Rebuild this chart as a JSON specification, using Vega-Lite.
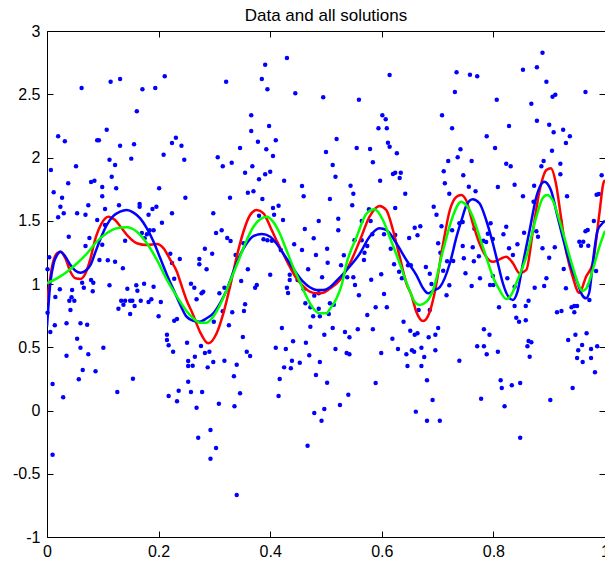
{
"$schema":"https://vega.github.io/schema/vega-lite/v6.json",
"width":558,"height":506,
"autosize":{"type":"none"},
"padding":{"left":47,"top":31,"right":0,"bottom":28},
"background":"white",
"title":{"text":"Data and all solutions","fontSize":17,"font":"Liberation Sans","fontWeight":"normal","color":"black","offset":8,"dy":10,"anchor":"middle","frame":"group"},
"config":{"view":{"stroke":null},"axis":{"grid":false,"title":null,"domainColor":"black","tickColor":"black","labelColor":"black","labelFont":"Liberation Sans","labelFontSize":16,"domainWidth":1,"tickWidth":1,"labelFlush":false,"labelOverlap":false}},
"datasets":{
"pts":[
{"x":0.062,"y":2.549},{"x":0.114,"y":2.599},{"x":0.131,"y":2.621},{"x":0.211,"y":2.642},{"x":0.171,"y":2.539},{"x":0.194,"y":2.549},{"x":0.161,"y":2.365},{"x":0.107,"y":2.22},{"x":0.02,"y":2.168},{"x":0.032,"y":2.128},{"x":0.09,"y":2.136},{"x":0.093,"y":2.136},{"x":0.131,"y":2.093},{"x":0.156,"y":2.104},{"x":0.231,"y":2.157},{"x":0.224,"y":2.115},{"x":0.241,"y":2.093},{"x":0.209,"y":2.022},{"x":0.151,"y":1.991},{"x":0.112,"y":1.983},{"x":0.122,"y":1.941},{"x":0.246,"y":1.983},{"x":0.007,"y":1.901},{"x":0.052,"y":1.93},{"x":0.116,"y":1.848},{"x":0.079,"y":1.806},{"x":0.085,"y":1.817},{"x":0.038,"y":1.796},{"x":0.099,"y":1.767},{"x":0.124,"y":1.757},{"x":0.201,"y":1.757},{"x":0.012,"y":1.725},{"x":0.099,"y":1.693},{"x":0.027,"y":1.682},{"x":0.248,"y":1.682},{"x":0.024,"y":1.611},{"x":0.074,"y":1.622},{"x":0.129,"y":1.622},{"x":0.166,"y":1.632},{"x":0.166,"y":1.611},{"x":0.196,"y":1.611},{"x":0.104,"y":1.593},{"x":0.189,"y":1.593},{"x":0.03,"y":1.559},{"x":0.054,"y":1.559},{"x":0.069,"y":1.548},{"x":0.182,"y":1.548},{"x":0.02,"y":1.527},{"x":0.224,"y":1.559},{"x":0.104,"y":1.466},{"x":0.09,"y":1.506},{"x":0.206,"y":1.485},{"x":0.039,"y":1.374},{"x":0.076,"y":1.364},{"x":0.069,"y":1.3},{"x":0.099,"y":1.311},{"x":0.17,"y":1.403},{"x":0.179,"y":1.393},{"x":0.184,"y":1.425},{"x":0.191,"y":1.425},{"x":0.175,"y":1.361},{"x":0.14,"y":1.342},{"x":0.094,"y":1.19},{"x":0.109,"y":1.187},{"x":0.122,"y":1.176},{"x":0.136,"y":1.124},{"x":0.004,"y":1.211},{"x":0.001,"y":1.116},{"x":0.221,"y":1.24},{"x":0.238,"y":1.198},{"x":0.224,"y":1.166},{"x":0.228,"y":1.042},{"x":0.079,"y":1.032},{"x":0.083,"y":1.01},{"x":0.063,"y":1.01},{"x":0.023,"y":0.958},{"x":0.045,"y":0.953},{"x":0.066,"y":0.971},{"x":0.082,"y":0.942},{"x":0.112,"y":0.99},{"x":0.144,"y":0.963},{"x":0.16,"y":0.99},{"x":0.162,"y":0.947},{"x":0.174,"y":1.002},{"x":0.191,"y":0.979},{"x":0.015,"y":0.897},{"x":0.044,"y":0.895},{"x":0.04,"y":0.868},{"x":0.049,"y":0.868},{"x":0.042,"y":0.795},{"x":0.133,"y":0.868},{"x":0.14,"y":0.868},{"x":0.149,"y":0.868},{"x":0.137,"y":0.836},{"x":0.153,"y":0.868},{"x":0.168,"y":0.868},{"x":0.182,"y":0.858},{"x":0.187,"y":0.879},{"x":0.204,"y":0.858},{"x":0.128,"y":0.805},{"x":0.157,"y":0.826},{"x":0.149,"y":0.763},{"x":0.2,"y":0.745},{"x":0.001,"y":0.773},{"x":0.228,"y":0.71},{"x":0.233,"y":0.723},{"x":0.014,"y":0.674},{"x":0.035,"y":0.689},{"x":0.06,"y":0.689},{"x":0.072,"y":0.678},{"x":0.006,"y":0.621},{"x":0.215,"y":0.599},{"x":0.215,"y":0.557},{"x":0.218,"y":0.515},{"x":0.054,"y":0.568},{"x":0.06,"y":0.496},{"x":0.101,"y":0.496},{"x":0.226,"y":0.465},{"x":0.035,"y":0.433},{"x":0.074,"y":0.444},{"x":0.251,"y":0.536},{"x":0.253,"y":0.391},{"x":0.253,"y":0.352},{"x":0.064,"y":0.32},{"x":0.087,"y":0.31},{"x":0.154,"y":0.251},{"x":0.057,"y":0.247},{"x":0.01,"y":0.21},{"x":0.029,"y":0.104},{"x":0.126,"y":0.146},{"x":0.01,"y":-0.349},{"x":0.218,"y":0.115},{"x":0.236,"y":0.157},{"x":0.233,"y":0.073},{"x":0.253,"y":0.228},
{"x":0.43,"y":2.787},{"x":0.391,"y":2.734},{"x":0.321,"y":2.599},{"x":0.385,"y":2.621},{"x":0.395,"y":2.539},{"x":0.445,"y":2.508},{"x":0.495,"y":2.476},{"x":0.366,"y":2.334},{"x":0.366,"y":2.209},{"x":0.398,"y":2.249},{"x":0.378,"y":2.125},{"x":0.41,"y":2.136},{"x":0.346,"y":2.075},{"x":0.393,"y":2.065},{"x":0.405,"y":2.012},{"x":0.306,"y":2.002},{"x":0.5,"y":2.043},{"x":0.315,"y":1.93},{"x":0.331,"y":1.959},{"x":0.368,"y":1.93},{"x":0.355,"y":1.88},{"x":0.4,"y":1.888},{"x":0.391,"y":1.867},{"x":0.38,"y":1.828},{"x":0.425,"y":1.817},{"x":0.457,"y":1.775},{"x":0.36,"y":1.722},{"x":0.37,"y":1.733},{"x":0.46,"y":1.693},{"x":0.328,"y":1.682},{"x":0.386,"y":1.672},{"x":0.507,"y":1.672},{"x":0.405,"y":1.601},{"x":0.415,"y":1.619},{"x":0.298,"y":1.559},{"x":0.38,"y":1.54},{"x":0.407,"y":1.548},{"x":0.423,"y":1.506},{"x":0.303,"y":1.403},{"x":0.313,"y":1.425},{"x":0.323,"y":1.364},{"x":0.329,"y":1.34},{"x":0.283,"y":1.279},{"x":0.296,"y":1.24},{"x":0.338,"y":1.229},{"x":0.352,"y":1.322},{"x":0.388,"y":1.353},{"x":0.395,"y":1.345},{"x":0.403,"y":1.342},{"x":0.419,"y":1.269},{"x":0.443,"y":1.314},{"x":0.462,"y":1.435},{"x":0.487,"y":1.498},{"x":0.478,"y":1.361},{"x":0.457,"y":1.269},{"x":0.482,"y":1.229},{"x":0.502,"y":1.279},{"x":0.503,"y":1.168},{"x":0.273,"y":1.198},{"x":0.273,"y":1.156},{"x":0.286,"y":1.116},{"x":0.36,"y":1.116},{"x":0.4,"y":1.074},{"x":0.348,"y":1.024},{"x":0.376,"y":0.992},{"x":0.373,"y":0.971},{"x":0.435,"y":1.074},{"x":0.435,"y":1.032},{"x":0.449,"y":1.032},{"x":0.468,"y":1.116},{"x":0.493,"y":1.053},{"x":0.258,"y":1.002},{"x":0.264,"y":0.971},{"x":0.28,"y":0.939},{"x":0.277,"y":0.926},{"x":0.268,"y":0.879},{"x":0.309,"y":0.926},{"x":0.318,"y":0.971},{"x":0.43,"y":0.971},{"x":0.432,"y":0.929},{"x":0.46,"y":0.958},{"x":0.487,"y":0.926},{"x":0.479,"y":0.908},{"x":0.463,"y":0.847},{"x":0.472,"y":0.816},{"x":0.487,"y":0.805},{"x":0.477,"y":0.745},{"x":0.489,"y":0.745},{"x":0.505,"y":0.763},{"x":0.315,"y":0.784},{"x":0.332,"y":0.776},{"x":0.355,"y":0.84},{"x":0.353,"y":0.787},{"x":0.299,"y":0.702},{"x":0.326,"y":0.674},{"x":0.421,"y":0.652},{"x":0.472,"y":0.662},{"x":0.497,"y":0.599},{"x":0.351,"y":0.581},{"x":0.276,"y":0.51},{"x":0.291,"y":0.465},{"x":0.283,"y":0.455},{"x":0.41,"y":0.496},{"x":0.428,"y":0.486},{"x":0.441,"y":0.547},{"x":0.464,"y":0.536},{"x":0.358,"y":0.465},{"x":0.364,"y":0.431},{"x":0.265,"y":0.425},{"x":0.47,"y":0.436},{"x":0.489,"y":0.383},{"x":0.298,"y":0.383},{"x":0.318,"y":0.394},{"x":0.34,"y":0.362},{"x":0.261,"y":0.354},{"x":0.288,"y":0.341},{"x":0.439,"y":0.394},{"x":0.453,"y":0.378},{"x":0.425,"y":0.341},{"x":0.437,"y":0.334},{"x":0.335,"y":0.27},{"x":0.417,"y":0.249},{"x":0.482,"y":0.281},{"x":0.258,"y":0.146},{"x":0.278,"y":0.146},{"x":0.268,"y":0.022},{"x":0.308,"y":0.054},{"x":0.336,"y":0.033},{"x":0.346,"y":0.136},{"x":0.293,"y":-0.154},{"x":0.271,"y":-0.215},{"x":0.303,"y":-0.296},{"x":0.293,"y":-0.381},{"x":0.34,"y":-0.668},{"x":0.415,"y":0.115},{"x":0.502,"y":0.22},{"x":0.479,"y":-0.02},{"x":0.497,"y":0.012},{"x":0.492,"y":-0.081},{"x":0.467,"y":-0.278},
{"x":0.614,"y":2.652},{"x":0.734,"y":2.674},{"x":0.731,"y":2.518},{"x":0.559,"y":2.457},{"x":0.601,"y":2.334},{"x":0.607,"y":2.302},{"x":0.708,"y":2.334},{"x":0.594,"y":2.231},{"x":0.609,"y":2.231},{"x":0.726,"y":2.231},{"x":0.519,"y":2.146},{"x":0.555,"y":2.075},{"x":0.579,"y":2.067},{"x":0.611,"y":2.117},{"x":0.614,"y":2.085},{"x":0.627,"y":2.033},{"x":0.741,"y":2.065},{"x":0.736,"y":2.002},{"x":0.719,"y":1.972},{"x":0.512,"y":1.941},{"x":0.584,"y":1.962},{"x":0.517,"y":1.848},{"x":0.62,"y":1.87},{"x":0.624,"y":1.88},{"x":0.634,"y":1.88},{"x":0.632,"y":1.838},{"x":0.711,"y":1.891},{"x":0.713,"y":1.796},{"x":0.746,"y":1.859},{"x":0.597,"y":1.817},{"x":0.544,"y":1.777},{"x":0.549,"y":1.714},{"x":0.642,"y":1.714},{"x":0.721,"y":1.714},{"x":0.547,"y":1.622},{"x":0.624,"y":1.601},{"x":0.693,"y":1.611},{"x":0.698,"y":1.548},{"x":0.522,"y":1.516},{"x":0.522,"y":1.425},{"x":0.564,"y":1.498},{"x":0.58,"y":1.498},{"x":0.577,"y":1.591},{"x":0.707,"y":1.456},{"x":0.726,"y":1.425},{"x":0.739,"y":1.48},{"x":0.745,"y":1.49},{"x":0.659,"y":1.445},{"x":0.669,"y":1.456},{"x":0.649,"y":1.364},{"x":0.664,"y":1.385},{"x":0.624,"y":1.387},{"x":0.551,"y":1.345},{"x":0.564,"y":1.345},{"x":0.574,"y":1.3},{"x":0.569,"y":1.247},{"x":0.568,"y":1.19},{"x":0.583,"y":1.393},{"x":0.604,"y":1.393},{"x":0.616,"y":1.279},{"x":0.701,"y":1.322},{"x":0.705,"y":1.247},{"x":0.745,"y":1.3},{"x":0.728,"y":1.182},{"x":0.717,"y":1.18},{"x":0.532,"y":1.227},{"x":0.527,"y":1.148},{"x":0.549,"y":1.053},{"x":0.622,"y":1.156},{"x":0.647,"y":1.148},{"x":0.652,"y":1.148},{"x":0.631,"y":1.097},{"x":0.679,"y":1.134},{"x":0.686,"y":1.081},{"x":0.71,"y":1.105},{"x":0.747,"y":1.203},{"x":0.538,"y":1.053},{"x":0.581,"y":1.034},{"x":0.599,"y":1.077},{"x":0.636,"y":1.045},{"x":0.552,"y":0.992},{"x":0.689,"y":1.0},{"x":0.721,"y":0.99},{"x":0.559,"y":0.911},{"x":0.604,"y":0.921},{"x":0.716,"y":0.911},{"x":0.507,"y":0.847},{"x":0.514,"y":0.836},{"x":0.589,"y":0.816},{"x":0.609,"y":0.816},{"x":0.574,"y":0.755},{"x":0.666,"y":0.795},{"x":0.686,"y":0.795},{"x":0.639,"y":0.702},{"x":0.512,"y":0.652},{"x":0.534,"y":0.621},{"x":0.542,"y":0.579},{"x":0.557,"y":0.642},{"x":0.584,"y":0.642},{"x":0.619,"y":0.568},{"x":0.651,"y":0.631},{"x":0.659,"y":0.599},{"x":0.664,"y":0.61},{"x":0.684,"y":0.579},{"x":0.696,"y":0.599},{"x":0.701,"y":0.652},{"x":0.517,"y":0.486},{"x":0.537,"y":0.455},{"x":0.542,"y":0.444},{"x":0.599,"y":0.455},{"x":0.629,"y":0.486},{"x":0.644,"y":0.444},{"x":0.654,"y":0.476},{"x":0.658,"y":0.465},{"x":0.671,"y":0.496},{"x":0.676,"y":0.423},{"x":0.696,"y":0.476},{"x":0.646,"y":0.352},{"x":0.671,"y":0.352},{"x":0.739,"y":0.394},{"x":0.589,"y":0.217},{"x":0.681,"y":0.239},{"x":0.54,"y":0.125},{"x":0.525,"y":0.043},{"x":0.691,"y":0.083},{"x":0.661,"y":-0.009},{"x":0.681,"y":-0.081},{"x":0.704,"y":-0.081},
{"x":0.888,"y":2.828},{"x":0.853,"y":2.694},{"x":0.878,"y":2.713},{"x":0.758,"y":2.655},{"x":0.771,"y":2.642},{"x":0.895,"y":2.599},{"x":0.965,"y":2.518},{"x":0.906,"y":2.481},{"x":0.911,"y":2.496},{"x":0.806,"y":2.457},{"x":0.868,"y":2.425},{"x":0.878,"y":2.291},{"x":0.9,"y":2.259},{"x":0.828,"y":2.249},{"x":0.925,"y":2.22},{"x":0.908,"y":2.199},{"x":0.937,"y":2.168},{"x":0.93,"y":2.115},{"x":0.788,"y":2.168},{"x":0.803,"y":2.075},{"x":0.905,"y":2.054},{"x":0.761,"y":1.972},{"x":0.823,"y":1.951},{"x":0.831,"y":1.93},{"x":0.89,"y":1.972},{"x":0.886,"y":1.93},{"x":0.92,"y":1.951},{"x":0.92,"y":1.867},{"x":0.994,"y":1.859},{"x":0.756,"y":1.769},{"x":0.768,"y":1.733},{"x":0.808,"y":1.767},{"x":0.838,"y":1.785},{"x":0.873,"y":1.777},{"x":0.853,"y":1.693},{"x":0.872,"y":1.651},{"x":0.932,"y":1.693},{"x":0.985,"y":1.706},{"x":0.989,"y":1.711},{"x":0.795,"y":1.48},{"x":0.766,"y":1.437},{"x":0.79,"y":1.398},{"x":0.823,"y":1.453},{"x":0.818,"y":1.393},{"x":0.855,"y":1.406},{"x":0.877,"y":1.417},{"x":0.88,"y":1.374},{"x":0.92,"y":1.498},{"x":0.98,"y":1.498},{"x":0.965,"y":1.417},{"x":0.969,"y":1.427},{"x":0.954,"y":1.334},{"x":0.961,"y":1.334},{"x":0.957,"y":1.303},{"x":0.97,"y":1.303},{"x":0.799,"y":1.356},{"x":0.787,"y":1.332},{"x":0.782,"y":1.342},{"x":0.763,"y":1.29},{"x":0.828,"y":1.282},{"x":0.843,"y":1.314},{"x":0.888,"y":1.282},{"x":0.91,"y":1.29},{"x":0.765,"y":1.179},{"x":0.774,"y":1.219},{"x":0.835,"y":1.229},{"x":0.9,"y":1.208},{"x":0.926,"y":1.119},{"x":0.984,"y":1.103},{"x":0.75,"y":1.085},{"x":0.799,"y":1.063},{"x":0.825,"y":1.045},{"x":0.776,"y":1.045},{"x":0.895,"y":1.045},{"x":0.761,"y":0.984},{"x":0.794,"y":0.992},{"x":0.8,"y":0.992},{"x":0.874,"y":0.971},{"x":0.891,"y":0.984},{"x":0.93,"y":0.966},{"x":0.971,"y":0.992},{"x":0.838,"y":0.979},{"x":0.972,"y":0.874},{"x":0.81,"y":0.816},{"x":0.838,"y":0.826},{"x":0.858,"y":0.826},{"x":0.863,"y":0.868},{"x":0.841,"y":0.734},{"x":0.846,"y":0.702},{"x":0.858,"y":0.713},{"x":0.914,"y":0.776},{"x":0.922,"y":0.787},{"x":0.94,"y":0.816},{"x":0.945,"y":0.826},{"x":0.95,"y":0.826},{"x":0.945,"y":0.776},{"x":0.783,"y":0.642},{"x":0.793,"y":0.599},{"x":0.771,"y":0.508},{"x":0.783,"y":0.508},{"x":0.788,"y":0.444},{"x":0.808,"y":0.465},{"x":0.863,"y":0.549},{"x":0.868,"y":0.539},{"x":0.861,"y":0.508},{"x":0.865,"y":0.425},{"x":0.934,"y":0.557},{"x":0.947,"y":0.599},{"x":0.967,"y":0.61},{"x":0.959,"y":0.518},{"x":0.952,"y":0.476},{"x":0.975,"y":0.486},{"x":0.986,"y":0.508},{"x":0.95,"y":0.415},{"x":0.975,"y":0.415},{"x":0.96,"y":0.383},{"x":0.982,"y":0.302},{"x":0.813,"y":0.239},{"x":0.815,"y":0.178},{"x":0.833,"y":0.199},{"x":0.848,"y":0.217},{"x":0.942,"y":0.178},{"x":0.778,"y":0.093},{"x":0.82,"y":0.033},{"x":0.902,"y":0.083},{"x":0.848,"y":-0.215}
],
"red":[
{"x":0,"y":0.85},{"x":0.009,"y":1.137},{"x":0.018,"y":1.243},{"x":0.024,"y":1.255},{"x":0.033,"y":1.203},{"x":0.042,"y":1.097},{"x":0.051,"y":1.045},{"x":0.06,"y":1.04},{"x":0.069,"y":1.085},{"x":0.078,"y":1.203},{"x":0.086,"y":1.348},{"x":0.098,"y":1.48},{"x":0.11,"y":1.532},{"x":0.122,"y":1.506},{"x":0.134,"y":1.44},{"x":0.146,"y":1.374},{"x":0.161,"y":1.322},{"x":0.179,"y":1.308},{"x":0.197,"y":1.316},{"x":0.209,"y":1.282},{"x":0.221,"y":1.19},{"x":0.233,"y":1.095},{"x":0.239,"y":1.016},{"x":0.25,"y":0.874},{"x":0.262,"y":0.755},{"x":0.274,"y":0.623},{"x":0.289,"y":0.531},{"x":0.304,"y":0.61},{"x":0.316,"y":0.768},{"x":0.328,"y":0.979},{"x":0.34,"y":1.216},{"x":0.352,"y":1.413},{"x":0.364,"y":1.545},{"x":0.376,"y":1.585},{"x":0.388,"y":1.559},{"x":0.4,"y":1.453},{"x":0.411,"y":1.348},{"x":0.423,"y":1.243},{"x":0.435,"y":1.137},{"x":0.447,"y":1.045},{"x":0.459,"y":0.984},{"x":0.471,"y":0.939},{"x":0.483,"y":0.926},{"x":0.495,"y":0.931},{"x":0.507,"y":0.964},{"x":0.525,"y":1.032},{"x":0.543,"y":1.164},{"x":0.561,"y":1.348},{"x":0.578,"y":1.532},{"x":0.596,"y":1.617},{"x":0.608,"y":1.585},{"x":0.62,"y":1.427},{"x":0.632,"y":1.216},{"x":0.644,"y":1.006},{"x":0.653,"y":0.913},{"x":0.662,"y":0.779},{"x":0.674,"y":0.708},{"x":0.686,"y":0.781},{"x":0.695,"y":0.937},{"x":0.71,"y":1.322},{"x":0.722,"y":1.585},{"x":0.734,"y":1.69},{"x":0.742,"y":1.704},{"x":0.751,"y":1.664},{"x":0.763,"y":1.48},{"x":0.775,"y":1.322},{"x":0.787,"y":1.216},{"x":0.799,"y":1.176},{"x":0.811,"y":1.195},{"x":0.823,"y":1.216},{"x":0.835,"y":1.164},{"x":0.847,"y":1.085},{"x":0.859,"y":1.111},{"x":0.871,"y":1.427},{"x":0.883,"y":1.743},{"x":0.895,"y":1.901},{"x":0.903,"y":1.915},{"x":0.912,"y":1.796},{"x":0.921,"y":1.532},{"x":0.93,"y":1.269},{"x":0.942,"y":1.058},{"x":0.954,"y":0.929},{"x":0.966,"y":1.058},{"x":0.978,"y":1.164},{"x":0.99,"y":1.559},{"x":0.997,"y":1.796},{"x":1.0,"y":1.82}
],
"blue":[
{"x":0,"y":0.662},{"x":0.006,"y":1.008},{"x":0.012,"y":1.164},{"x":0.018,"y":1.229},{"x":0.024,"y":1.255},{"x":0.033,"y":1.216},{"x":0.042,"y":1.15},{"x":0.051,"y":1.105},{"x":0.06,"y":1.089},{"x":0.069,"y":1.105},{"x":0.078,"y":1.15},{"x":0.086,"y":1.243},{"x":0.095,"y":1.348},{"x":0.107,"y":1.466},{"x":0.119,"y":1.538},{"x":0.131,"y":1.572},{"x":0.143,"y":1.585},{"x":0.155,"y":1.564},{"x":0.167,"y":1.519},{"x":0.179,"y":1.44},{"x":0.191,"y":1.334},{"x":0.203,"y":1.203},{"x":0.215,"y":1.071},{"x":0.227,"y":0.953},{"x":0.239,"y":0.834},{"x":0.25,"y":0.742},{"x":0.262,"y":0.71},{"x":0.274,"y":0.702},{"x":0.286,"y":0.729},{"x":0.298,"y":0.768},{"x":0.31,"y":0.847},{"x":0.322,"y":0.953},{"x":0.334,"y":1.097},{"x":0.346,"y":1.229},{"x":0.358,"y":1.322},{"x":0.37,"y":1.379},{"x":0.385,"y":1.395},{"x":0.4,"y":1.374},{"x":0.411,"y":1.322},{"x":0.423,"y":1.243},{"x":0.435,"y":1.164},{"x":0.447,"y":1.085},{"x":0.459,"y":1.018},{"x":0.471,"y":0.974},{"x":0.483,"y":0.953},{"x":0.495,"y":0.953},{"x":0.507,"y":0.975},{"x":0.52,"y":1.03},{"x":0.537,"y":1.111},{"x":0.561,"y":1.243},{"x":0.578,"y":1.374},{"x":0.596,"y":1.44},{"x":0.608,"y":1.427},{"x":0.626,"y":1.322},{"x":0.644,"y":1.19},{"x":0.662,"y":1.071},{"x":0.674,"y":0.966},{"x":0.683,"y":0.926},{"x":0.691,"y":0.945},{"x":0.704,"y":0.976},{"x":0.722,"y":1.164},{"x":0.734,"y":1.374},{"x":0.743,"y":1.506},{"x":0.752,"y":1.625},{"x":0.763,"y":1.67},{"x":0.775,"y":1.638},{"x":0.787,"y":1.506},{"x":0.799,"y":1.322},{"x":0.808,"y":1.164},{"x":0.817,"y":1.006},{"x":0.825,"y":0.913},{"x":0.835,"y":0.874},{"x":0.843,"y":0.937},{"x":0.853,"y":1.164},{"x":0.865,"y":1.427},{"x":0.877,"y":1.69},{"x":0.891,"y":1.809},{"x":0.903,"y":1.743},{"x":0.915,"y":1.532},{"x":0.927,"y":1.322},{"x":0.939,"y":1.137},{"x":0.951,"y":1.006},{"x":0.959,"y":0.913},{"x":0.966,"y":0.887},{"x":0.972,"y":0.937},{"x":0.978,"y":1.164},{"x":0.987,"y":1.427},{"x":0.996,"y":1.482},{"x":1.0,"y":1.5}
],
"green":[
{"x":0,"y":1.006},{"x":0.018,"y":1.045},{"x":0.036,"y":1.097},{"x":0.054,"y":1.164},{"x":0.072,"y":1.243},{"x":0.089,"y":1.334},{"x":0.107,"y":1.401},{"x":0.125,"y":1.44},{"x":0.143,"y":1.448},{"x":0.161,"y":1.413},{"x":0.179,"y":1.322},{"x":0.197,"y":1.19},{"x":0.215,"y":1.032},{"x":0.233,"y":0.9},{"x":0.25,"y":0.787},{"x":0.262,"y":0.729},{"x":0.274,"y":0.694},{"x":0.286,"y":0.694},{"x":0.298,"y":0.742},{"x":0.31,"y":0.834},{"x":0.322,"y":0.953},{"x":0.334,"y":1.085},{"x":0.346,"y":1.216},{"x":0.358,"y":1.348},{"x":0.37,"y":1.453},{"x":0.382,"y":1.511},{"x":0.394,"y":1.532},{"x":0.405,"y":1.493},{"x":0.417,"y":1.401},{"x":0.429,"y":1.269},{"x":0.441,"y":1.137},{"x":0.453,"y":1.018},{"x":0.465,"y":0.9},{"x":0.477,"y":0.808},{"x":0.489,"y":0.768},{"x":0.501,"y":0.768},{"x":0.507,"y":0.802},{"x":0.519,"y":0.887},{"x":0.528,"y":0.992},{"x":0.537,"y":1.164},{"x":0.555,"y":1.374},{"x":0.573,"y":1.559},{"x":0.587,"y":1.591},{"x":0.602,"y":1.506},{"x":0.614,"y":1.374},{"x":0.632,"y":1.164},{"x":0.647,"y":0.979},{"x":0.659,"y":0.86},{"x":0.668,"y":0.834},{"x":0.68,"y":0.86},{"x":0.692,"y":0.953},{"x":0.71,"y":1.269},{"x":0.727,"y":1.532},{"x":0.742,"y":1.651},{"x":0.751,"y":1.625},{"x":0.763,"y":1.532},{"x":0.775,"y":1.374},{"x":0.787,"y":1.216},{"x":0.799,"y":1.058},{"x":0.811,"y":0.953},{"x":0.823,"y":0.881},{"x":0.835,"y":0.939},{"x":0.841,"y":1.006},{"x":0.859,"y":1.216},{"x":0.877,"y":1.532},{"x":0.888,"y":1.677},{"x":0.896,"y":1.704},{"x":0.906,"y":1.664},{"x":0.918,"y":1.506},{"x":0.93,"y":1.322},{"x":0.942,"y":1.137},{"x":0.954,"y":0.979},{"x":0.96,"y":0.945},{"x":0.967,"y":0.968},{"x":0.978,"y":1.111},{"x":0.99,"y":1.295},{"x":1.0,"y":1.42}
]
},
"layer":[
{"data":{"name":"pts"},"mark":{"type":"point","opacity":0},
 "encoding":{
  "x":{"field":"x","type":"quantitative","scale":{"domain":[0,1],"nice":false,"zero":false},"axis":{"orient":"top","values":[0,0.2,0.4,0.6,0.8,1],"labels":false,"tickSize":-6}},
  "y":{"field":"y","type":"quantitative","scale":{"domain":[-1,3],"nice":false,"zero":false},"axis":{"orient":"right","values":[-1,-0.5,0,0.5,1,1.5,2,2.5,3],"labels":false,"tickSize":-6}}}},
{"data":{"name":"pts"},"mark":{"type":"circle","color":"#0000ff","size":20,"opacity":1},
 "encoding":{
  "x":{"field":"x","type":"quantitative","scale":{"domain":[0,1],"nice":false,"zero":false},"axis":{"orient":"bottom","values":[0,0.2,0.4,0.6,0.8,1],"labelExpr":"'' + datum.value","tickSize":-6,"labelPadding":12}},
  "y":{"field":"y","type":"quantitative","scale":{"domain":[-1,3],"nice":false,"zero":false},"axis":{"orient":"left","values":[-1,-0.5,0,0.5,1,1.5,2,2.5,3],"labelExpr":"'' + datum.value","tickSize":-6,"labelPadding":13}}}},
{"data":{"name":"red"},"mark":{"type":"line","color":"#ff0000","strokeWidth":2.5,"clip":true,"interpolate":"monotone"},
 "encoding":{"x":{"field":"x","type":"quantitative","scale":{"domain":[0,1],"nice":false,"zero":false},"axis":null},"y":{"field":"y","type":"quantitative","scale":{"domain":[-1,3],"nice":false,"zero":false},"axis":null}}},
{"data":{"name":"blue"},"mark":{"type":"line","color":"#0000ff","strokeWidth":2.5,"clip":true,"interpolate":"monotone"},
 "encoding":{"x":{"field":"x","type":"quantitative","scale":{"domain":[0,1],"nice":false,"zero":false},"axis":null},"y":{"field":"y","type":"quantitative","scale":{"domain":[-1,3],"nice":false,"zero":false},"axis":null}}},
{"data":{"name":"green"},"mark":{"type":"line","color":"#00ff00","strokeWidth":2.5,"clip":true,"interpolate":"monotone"},
 "encoding":{"x":{"field":"x","type":"quantitative","scale":{"domain":[0,1],"nice":false,"zero":false},"axis":null},"y":{"field":"y","type":"quantitative","scale":{"domain":[-1,3],"nice":false,"zero":false},"axis":null}}}
],
"resolve":{"axis":{"x":"independent","y":"independent"}}
}
